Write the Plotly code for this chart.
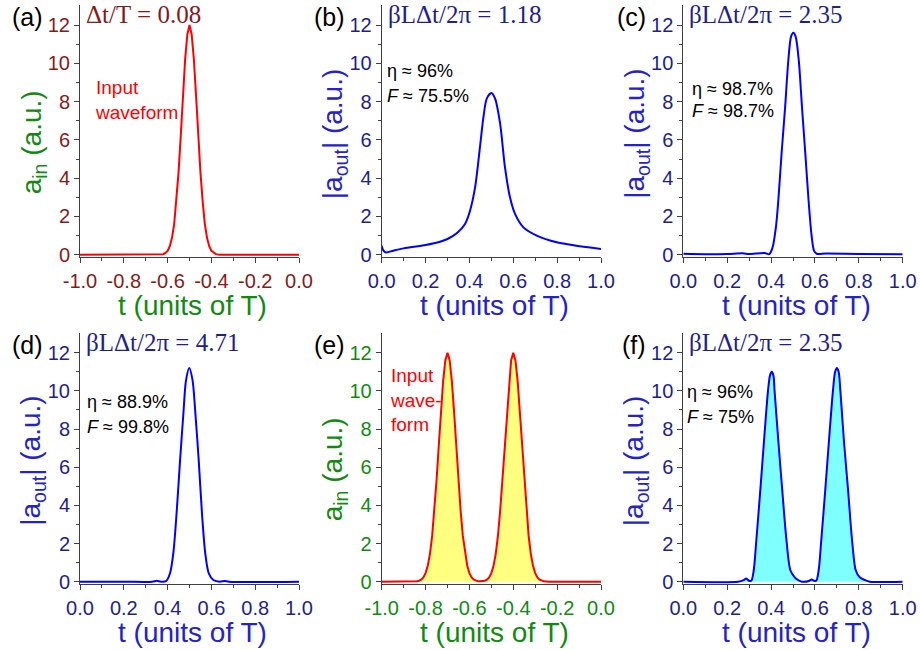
import plotly.graph_objects as go

# ---------------- data ----------------
# (a) single input pulse
t_a = [-1.0, -0.64, -0.63, -0.62, -0.61, -0.60, -0.59, -0.58, -0.57, -0.56, -0.55,
       -0.54, -0.53, -0.52, -0.51, -0.50, -0.49, -0.48, -0.47, -0.46, -0.45, -0.44,
       -0.43, -0.42, -0.41, -0.40, -0.39, -0.38, -0.37, -0.36, 0.0]
amp_a = [0.0, 0.0, 0.01, 0.03, 0.09, 0.20, 0.44, 0.88, 1.6, 2.8, 4.3,
         6.2, 8.3, 10.2, 11.5, 12.0, 11.5, 10.2, 8.3, 6.2, 4.3, 2.8,
         1.6, 0.88, 0.44, 0.20, 0.09, 0.03, 0.01, 0.0, 0.0]

# (b) output, beta L dt / 2pi = 1.18
t_b = [0.0, 0.008, 0.02, 0.053, 0.10, 0.20, 0.266, 0.30, 0.342, 0.38, 0.403, 0.426,
       0.448, 0.464, 0.479, 0.50, 0.517, 0.54, 0.562, 0.585, 0.608, 0.646, 0.707,
       0.798, 0.904, 1.0]
amp_b = [0.47, 0.21, 0.12, 0.21, 0.33, 0.51, 0.68, 0.82, 1.12, 1.61, 2.31, 3.53,
         5.62, 7.2, 8.16, 8.45, 8.16, 6.85, 4.58, 3.0, 2.13, 1.43, 1.0,
         0.65, 0.44, 0.30]

# (c) output, beta L dt / 2pi = 2.35
t_c = [0.0, 0.1, 0.2, 0.27, 0.30, 0.37, 0.392, 0.407, 0.422, 0.433, 0.448, 0.464,
       0.479, 0.491, 0.5015, 0.512, 0.526, 0.541, 0.556, 0.571, 0.584, 0.596, 0.608,
       0.65, 0.8, 1.0]
amp_c = [0.05, 0.03, 0.04, 0.07, 0.04, 0.09, 0.03, 0.38, 1.43, 2.83, 5.3, 7.7,
         10.2, 11.4, 11.6, 11.4, 10.2, 7.7, 5.3, 2.83, 1.08, 0.2, 0.05,
         0.06, 0.04, 0.03]

# (d) output, beta L dt / 2pi = 4.71
t_d = [0.0, 0.2, 0.33, 0.35, 0.37, 0.393, 0.411, 0.426, 0.441, 0.457, 0.472, 0.484,
       0.499, 0.514, 0.527, 0.542, 0.557, 0.572, 0.588, 0.609, 0.639, 0.66, 0.68, 1.0]
amp_d = [0.0, 0.0, 0.0, 0.05, 0.0, 0.03, 0.44, 1.48, 3.58, 6.37, 8.8, 10.55,
         11.2, 10.55, 8.8, 6.37, 3.58, 1.48, 0.44, 0.09, 0.0, 0.04, 0.0, 0.0]

# (e) double input pulse
t_e = [-1.0, -0.86, -0.85, -0.84, -0.83, -0.82, -0.81, -0.80, -0.79, -0.78, -0.77,
       -0.76, -0.75, -0.74, -0.73, -0.72, -0.71, -0.70, -0.69, -0.68, -0.67, -0.66,
       -0.65, -0.64, -0.63, -0.62, -0.61, -0.60, -0.59, -0.58, -0.57, -0.56, -0.55,
       -0.54, -0.53, -0.52, -0.51, -0.50, -0.49, -0.48, -0.47, -0.46, -0.45, -0.44,
       -0.43, -0.42, -0.41, -0.40, -0.39, -0.38, -0.37, -0.36, -0.35, -0.34, -0.33,
       -0.32, -0.31, -0.30, -0.29, -0.28, -0.27, -0.26, -0.25, -0.24, 0.0]
amp_e = [0.0, 0.0, 0.01, 0.02, 0.05, 0.11, 0.22, 0.45, 0.84, 1.46, 2.4,
         3.7, 5.3, 7.1, 8.9, 10.5, 11.6, 12.0, 11.6, 10.5, 8.9, 7.1,
         5.3, 3.7, 2.4, 1.46, 0.84, 0.45, 0.22, 0.11, 0.05, 0.02, 0.02,
         0.02, 0.05, 0.11, 0.22, 0.45, 0.84, 1.46, 2.4, 3.7, 5.3, 7.1,
         8.9, 10.5, 11.6, 12.0, 11.6, 10.5, 8.9, 7.1, 5.3, 3.7, 2.4,
         1.46, 0.84, 0.45, 0.22, 0.11, 0.05, 0.02, 0.01, 0.0, 0.0]

# (f) double output, beta L dt / 2pi = 2.35
t_f = [0.0, 0.25, 0.275, 0.287, 0.30, 0.31, 0.321, 0.333, 0.351, 0.368, 0.386, 0.395,
       0.403, 0.411, 0.416, 0.433, 0.451, 0.470, 0.488, 0.508, 0.523, 0.54, 0.575,
       0.584, 0.596, 0.606, 0.617, 0.629, 0.647, 0.664, 0.682, 0.692, 0.700, 0.708,
       0.716, 0.732, 0.751, 0.769, 0.786, 0.804, 0.827, 0.85, 1.0]
amp_f = [0.0, 0.0, 0.08, 0.17, 0.05, 0.05, 0.6, 2.2, 4.8, 7.4, 10.0, 10.8,
         11.0, 10.8, 10.0, 7.4, 4.8, 2.2, 0.6, 0.23, 0.09, 0.0, 0.05,
         0.12, 0.05, 0.05, 0.6, 2.2, 4.8, 7.4, 10.0, 11.0, 11.2, 11.0,
         10.0, 7.4, 4.8, 2.2, 0.6, 0.23, 0.09, 0.0, 0.0]

# axis ticks
x_ticks_neg = [-1.0, -0.8, -0.6, -0.4, -0.2, 0.0]
x_labels_neg = ["-1.0", "-0.8", "-0.6", "-0.4", "-0.2", "0.0"]
x_minor_neg = [-0.9, -0.7, -0.5, -0.3, -0.1]
x_ticks_pos = [0.0, 0.2, 0.4, 0.6, 0.8, 1.0]
x_labels_pos = ["0.0", "0.2", "0.4", "0.6", "0.8", "1.0"]
x_minor_pos = [0.1, 0.3, 0.5, 0.7, 0.9]
y_ticks = [0, 2, 4, 6, 8, 10, 12]
y_labels = ["0", "2", "4", "6", "8", "10", "12"]
y_minor = [1, 3, 5, 7, 9, 11]

# text
panel_labels = ["(a)", "(b)", "(c)", "(d)", "(e)", "(f)"]
panel_titles = ["\u0394t/T = 0.08", "\u03b2L\u0394t/2\u03c0 = 1.18", "\u03b2L\u0394t/2\u03c0 = 2.35",
                "\u03b2L\u0394t/2\u03c0 = 4.71", "", "\u03b2L\u0394t/2\u03c0 = 2.35"]
eta_text = ["", "\u03b7 \u2248 96%", "\u03b7 \u2248 98.7%", "\u03b7 \u2248 88.9%", "", "\u03b7 \u2248 96%"]
fid_text = ["", "<i>F</i> \u2248 75.5%", "<i>F</i> \u2248 98.7%", "<i>F</i> \u2248 99.8%", "",
            "<i>F</i> \u2248 75%"]
x_title = "t (units of T)"
y_title_in = "a<sub>in</sub> (a.u.)"
y_title_out = "|a<sub>out</sub>| (a.u.)"

# ---------------- styling ----------------
SANS = "Liberation Sans, Arial, sans-serif"
SERIF = "Liberation Serif, Times New Roman, serif"
MAROON = "#861a1a"
GREEN = "#128a12"
NAVY = "#1e1e8c"
BLUE_T = "#2323c8"
AXIS = "#404040"
RED = "#ff0000"
BLUE = "#0000ff"

col_dom = [[80 / 920, 299 / 920], [381.7 / 920, 601 / 920], [683.3 / 920, 902.7 / 920]]
row_dom = [[1 - 257 / 650, 1 - 5 / 650], [1 - 584 / 650, 1 - 332.7 / 650]]

panels = [
    dict(t=t_a, v=amp_a, line=RED, fill=None, neg=True, tick=MAROON, title=GREEN,
         ytitle=y_title_in, head=MAROON, spline=False),
    dict(t=t_b, v=amp_b, line=BLUE, fill=None, neg=False, tick=NAVY, title=BLUE_T,
         ytitle=y_title_out, head=NAVY, spline=True),
    dict(t=t_c, v=amp_c, line=BLUE, fill=None, neg=False, tick=NAVY, title=BLUE_T,
         ytitle=y_title_out, head=NAVY, spline=True),
    dict(t=t_d, v=amp_d, line=BLUE, fill=None, neg=False, tick=NAVY, title=BLUE_T,
         ytitle=y_title_out, head=NAVY, spline=True),
    dict(t=t_e, v=amp_e, line=RED, fill="#ffff80", neg=True, tick=GREEN, title=GREEN,
         ytitle=y_title_in, head=GREEN, spline=False),
    dict(t=t_f, v=amp_f, line=BLUE, fill="#80ffff", neg=False, tick=NAVY, title=BLUE_T,
         ytitle=y_title_out, head=NAVY, spline=True),
]

# positions of the efficiency / fidelity notes (data units)
note_pos = [None, (0.015, 9.6, 8.3), (0.03, 8.66, 7.5), (0.023, 9.41, 8.1), None,
            (0.008, 9.94, 8.63)]

fig = go.Figure()
layout = dict(width=920, height=650, margin=dict(l=0, r=0, t=0, b=0, autoexpand=False),
              paper_bgcolor="white", plot_bgcolor="white", showlegend=False)
annotations = []

for i, p in enumerate(panels):
    n = i + 1
    xa = "x" if n == 1 else f"x{n}"
    ya = "y" if n == 1 else f"y{n}"
    row, col = divmod(i, 3)

    fig.add_trace(go.Scatter(
        x=p["t"], y=p["v"], xaxis=xa, yaxis=ya, mode="lines",
        line=dict(color=p["line"], width=2, shape="spline" if p["spline"] else "linear",
                  smoothing=0.8),
        fill="tozeroy" if p["fill"] else None,
        fillcolor=p["fill"], hoverinfo="skip"))

    xkey = "xaxis" if n == 1 else f"xaxis{n}"
    ykey = "yaxis" if n == 1 else f"yaxis{n}"
    layout[xkey] = dict(
        domain=col_dom[col], anchor=ya, automargin=False,
        range=[-1, 0] if p["neg"] else [0, 1],
        tickmode="array",
        tickvals=x_ticks_neg if p["neg"] else x_ticks_pos,
        ticktext=x_labels_neg if p["neg"] else x_labels_pos,
        ticks="outside", ticklen=5, tickwidth=1, tickcolor=AXIS,
        minor=dict(tickmode="array", tickvals=x_minor_neg if p["neg"] else x_minor_pos,
                   ticks="outside", ticklen=3, tickwidth=1, tickcolor=AXIS),
        showline=True, linecolor=AXIS, linewidth=1, mirror=False,
        showgrid=False, zeroline=False,
        tickfont=dict(family=SANS, size=20, color=p["tick"]),
        ticklabelstandoff=1,
    )
    layout[ykey] = dict(
        domain=row_dom[row], anchor=xa, automargin=False,
        range=[-0.12, 13.05],
        tickmode="array", tickvals=y_ticks, ticktext=y_labels,
        ticks="outside", ticklen=5, tickwidth=1, tickcolor=AXIS,
        minor=dict(tickmode="array", tickvals=y_minor,
                   ticks="outside", ticklen=3, tickwidth=1, tickcolor=AXIS),
        showline=True, linecolor=AXIS, linewidth=1, mirror=False,
        showgrid=False, zeroline=False,
        tickfont=dict(family=SANS, size=20, color=p["tick"]),
    )

    # axis titles
    annotations.append(dict(
        text=x_title, xref=f"{xa} domain", yref=f"{ya} domain", x=0.5, y=0,
        xanchor="center", yanchor="middle", yshift=-48, xshift=3, showarrow=False,
        font=dict(family=SANS, size=28, color=p["title"])))
    annotations.append(dict(
        text=p["ytitle"], xref=f"{xa} domain", yref=f"{ya} domain", x=0,
        y=0.455 if p["ytitle"] == y_title_in else 0.49,
        xanchor="center", yanchor="middle", xshift=-47, textangle=-90, showarrow=False,
        font=dict(family=SANS, size=28, color=p["title"])))

    # panel letter
    annotations.append(dict(
        text=panel_labels[i], xref=f"{xa} domain", yref=f"{ya} domain", x=0, y=1,
        xanchor="right", yanchor="middle", xshift=-35, yshift=-12, showarrow=False,
        font=dict(family=SANS, size=25, color="black")))

    # panel heading
    if panel_titles[i]:
        annotations.append(dict(
            text=panel_titles[i], xref=f"{xa} domain", yref=f"{ya} domain", x=0, y=1,
            xanchor="left", yanchor="middle", xshift=4, yshift=-10, showarrow=False,
            font=dict(family=SERIF, size=25, color=p["head"])))

    # efficiency / fidelity notes
    if note_pos[i]:
        nx, ny1, ny2 = note_pos[i]
        for txt, ny in ((eta_text[i], ny1), (fid_text[i], ny2)):
            annotations.append(dict(
                text=txt, xref=xa, yref=ya, x=nx, y=ny, xanchor="left", yanchor="middle",
                showarrow=False, font=dict(family=SANS, size=18, color="black")))

# "Input waveform" labels
annotations.append(dict(
    text="Input<br>waveform", xref="x", yref="y", x=-0.94, y=8.06,
    xanchor="left", yanchor="middle", align="left", showarrow=False,
    font=dict(family=SANS, size=19, color=RED)))
annotations.append(dict(
    text="Input<br>wave-<br>form", xref="x5", yref="y5", x=-0.97, y=9.5,
    xanchor="left", yanchor="middle", align="left", showarrow=False,
    font=dict(family=SANS, size=19, color=RED)))

layout["annotations"] = annotations
fig.update_layout(**layout)
fig.write_html("out.html")
